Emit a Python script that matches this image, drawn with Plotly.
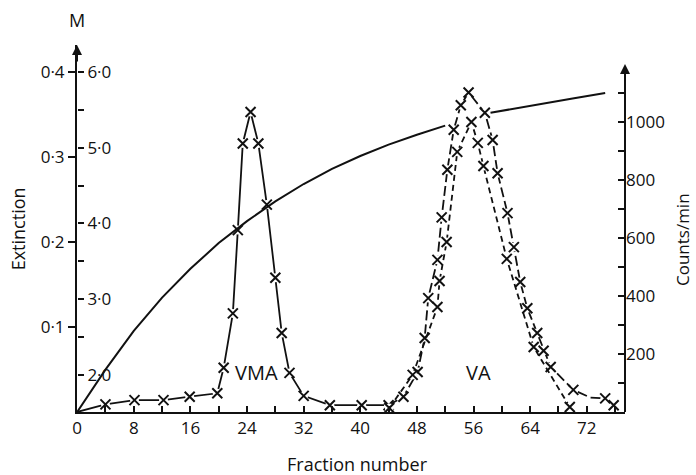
import plotly.graph_objects as go

# ---- data ----
# gradient (molarity, M) – solid curve
grad_frac = [0, 4, 8, 12, 16, 20, 24, 28, 32, 36, 40, 44, 48, 52, None, 58.4, 62, 66, 70, 74.6]
grad_M    = [1.51, 2.07, 2.58, 3.02, 3.40, 3.74, 4.03, 4.29, 4.52, 4.72, 4.89, 5.04, 5.17, 5.29, None, 5.46, 5.52, 5.59, 5.65, 5.72]

# VMA peak (extinction)
vma_frac = [0, 4.0, 8.1, 12.2, 15.9, 19.8, 20.7, 22.0, 22.7, 23.4, 24.5, 25.6, 26.8, 28.0, 28.9, 30.0, 32.0, 35.7, 40.2, 44.0]
vma_ext  = [0, 0.009, 0.014, 0.014, 0.018, 0.022, 0.052, 0.116, 0.214, 0.316, 0.353, 0.316, 0.244, 0.158, 0.093, 0.046, 0.019, 0.008, 0.008, 0.008]

# VA peak (extinction) – long dashes
va_ext_frac = [44.0, 46.1, 48.1, 49.1, 49.6, 50.9, 51.5, 52.3, 53.2, 54.2, 55.3, 57.6, 58.7, 59.4, 60.8, 61.7, 62.6, 63.6, 65.0, 65.9, 66.9, 70.1, 72.5, 74.6, 75.8]
va_ext      = [0.008, 0.018, 0.047, 0.087, 0.134, 0.179, 0.229, 0.285, 0.332, 0.361, 0.376, 0.352, 0.320, 0.281, 0.234, 0.194, 0.153, 0.122, 0.093, 0.072, 0.053, 0.026, 0.017, 0.016, 0.008]
va_ext_mark = [True] * 22 + [False, True, True]

# VA peak (counts/min) – short dashes
va_cpm_frac = [44.1, 47.4, 50.9, 51.2, 52.2, 53.7, 55.7, 56.6, 57.4, 60.7, 64.5, 69.6]
va_cpm      = [14, 128, 362, 452, 586, 897, 1000, 928, 848, 528, 224, 17]

# axis tick labels
x_tickvals = [0, 8, 16, 24, 32, 40, 48, 56, 64, 72]
x_ticktext = ["0", "8", "16", "24", "32", "40", "48", "56", "64", "72"]
ext_tickvals = [0.1, 0.2, 0.3, 0.4]
ext_ticktext = ["0·1", "0·2", "0·3", "0·4"]
m_tickvals = [2, 3, 4, 5, 6]
m_ticktext = ["2·0", "3·0", "4·0", "5·0", "6·0"]
cpm_tickvals = [200, 400, 600, 800, 1000]

FONT = "Open Sans"
BLK = "#111111"

fig = go.Figure()

# gradient curve
fig.add_trace(go.Scatter(x=grad_frac, y=grad_M, yaxis="y2", mode="lines",
                         line=dict(color=BLK, width=2), connectgaps=False,
                         showlegend=False, hoverinfo="skip"))

def series(xs, ys, axis, dash):
    fig.add_trace(go.Scatter(x=xs, y=ys, yaxis=axis, mode="lines",
                             line=dict(color=BLK, width=1.8, dash=dash),
                             showlegend=False, hoverinfo="skip"))

def markers(xs, ys, axis, mark=None):
    if mark is not None:
        xs = [a for a, m in zip(xs, mark) if m]
        ys = [b for b, m in zip(ys, mark) if m]
    fig.add_trace(go.Scatter(x=xs, y=ys, yaxis=axis, mode="markers",
                             marker=dict(symbol="circle", size=9, color="white",
                                         line=dict(width=0)),
                             showlegend=False, hoverinfo="skip"))
    fig.add_trace(go.Scatter(x=xs, y=ys, yaxis=axis, mode="markers",
                             marker=dict(symbol="x-thin", size=10,
                                         line=dict(color=BLK, width=2)),
                             showlegend=False, hoverinfo="skip"))

series(vma_frac, vma_ext, "y", "solid")
series(va_ext_frac, va_ext, "y", "10px,4px")
series(va_cpm_frac, va_cpm, "y3", "6px,4px")
markers(vma_frac[1:], vma_ext[1:], "y")
markers(va_ext_frac[1:], va_ext[1:], "y", va_ext_mark[1:])
markers(va_cpm_frac, va_cpm, "y3")

tickfont = dict(family=FONT, size=17, color=BLK)

fig.update_layout(
    width=696, height=475,
    margin=dict(l=77, r=71, t=45, b=63, autoexpand=False),
    paper_bgcolor="white", plot_bgcolor="white",
    font=dict(family=FONT, color=BLK),
    xaxis=dict(range=[-0.02, 77.4], showgrid=False, zeroline=False, automargin=False,
               showline=True, linecolor=BLK, linewidth=2,
               tickmode="array", tickvals=x_tickvals, ticktext=x_ticktext,
               ticks="inside", ticklen=6, tickwidth=2, tickcolor=BLK,
               minor=dict(tickvals=[4, 12, 20, 28, 36, 44, 52, 60, 68, 76],
                          ticks="inside", ticklen=6, tickwidth=2, tickcolor=BLK),
               tickfont=tickfont),
    yaxis=dict(range=[0, 0.4318], showgrid=False, zeroline=False, automargin=False,
               showline=True, linecolor=BLK, linewidth=2,
               tickmode="array", tickvals=ext_tickvals, ticktext=ext_ticktext,
               ticks="outside", ticklen=7, tickwidth=2, tickcolor=BLK,
               tickfont=tickfont),
    yaxis2=dict(range=[1.51, 6.355], overlaying="y", side="right",
                anchor="free", position=0, automargin=False,
                showgrid=False, zeroline=False, showline=False,
                tickmode="array", tickvals=m_tickvals, ticktext=m_ticktext,
                ticks="outside", ticklen=6, tickwidth=2, tickcolor=BLK,
                minor=dict(tickvals=[2.5, 3.5, 4.5, 5.5], ticks="outside",
                           ticklen=6, tickwidth=2, tickcolor=BLK),
                tickfont=tickfont),
    yaxis3=dict(range=[0, 1265.5], overlaying="y", side="right", anchor="x",
                automargin=False,
                showgrid=False, zeroline=False, showline=False,
                tickmode="array", tickvals=cpm_tickvals,
                ticks="inside", ticklen=7, tickwidth=2, tickcolor=BLK,
                minor=dict(tickvals=[100, 300, 500, 700, 900, 1100], ticks="inside",
                           ticklen=7, tickwidth=2, tickcolor=BLK),
                tickfont=tickfont),
)

# right axis line (ends below plot top) with arrow
fig.add_shape(type="line", xref="paper", yref="y3", x0=1, x1=1, y0=0, y1=1190,
              line=dict(color=BLK, width=2))
fig.add_annotation(xref="paper", yref="y3", x=1, y=1200, ax=0, ay=18,
                   axref="pixel", ayref="pixel", text="", showarrow=True,
                   arrowhead=2, arrowsize=1, arrowwidth=2, arrowcolor=BLK)
# left axis arrow
fig.add_annotation(xref="paper", yref="paper", x=0, y=1.0, ax=0, ay=18,
                   text="", showarrow=True, arrowhead=2, arrowsize=1,
                   arrowwidth=2, arrowcolor=BLK)

# axis titles / labels
fig.add_annotation(xref="paper", yref="paper", x=0, y=1.068, xanchor="center",
                   yanchor="middle", text="M", showarrow=False,
                   font=dict(family=FONT, size=18, color=BLK))
fig.add_annotation(xref="paper", yref="paper", x=-0.108, y=0.5, xanchor="center",
                   yanchor="middle", text="Extinction", textangle=-90, showarrow=False,
                   font=dict(family=FONT, size=18, color=BLK))
fig.add_annotation(xref="paper", yref="paper", x=1.105, y=0.47, xanchor="center",
                   yanchor="middle", text="Counts/min", textangle=-90, showarrow=False,
                   font=dict(family=FONT, size=17, color=BLK))
fig.add_annotation(xref="paper", yref="paper", x=0.511, y=-0.1417, xanchor="center",
                   yanchor="middle", text="Fraction number", showarrow=False,
                   font=dict(family=FONT, size=18, color=BLK))
fig.add_annotation(x=25.3, y=0.047, xref="x", yref="y", text="VMA",
                   showarrow=False, font=dict(family=FONT, size=20, color=BLK))
fig.add_annotation(x=56.7, y=0.047, xref="x", yref="y", text="VA",
                   showarrow=False, font=dict(family=FONT, size=20, color=BLK))

fig.write_html("out.html", post_script="document.body.style.margin='0';",
               config={"displayModeBar": False})
